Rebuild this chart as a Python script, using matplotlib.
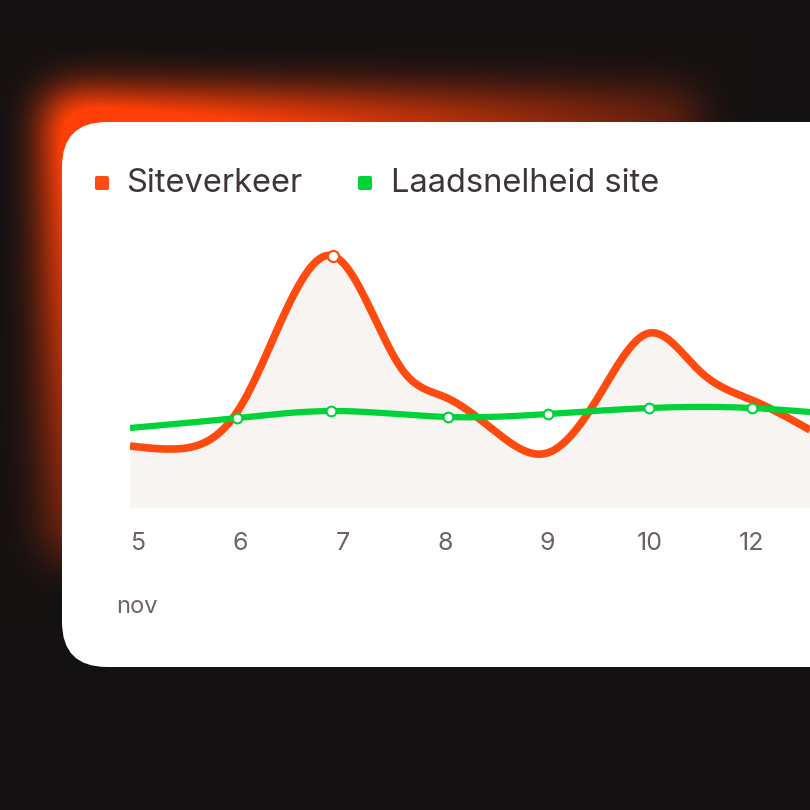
import numpy as np
import matplotlib
matplotlib.use("Agg")
import matplotlib.pyplot as plt
from matplotlib.patches import FancyBboxPatch

# ---- data ----
tick_labels = ["5", "6", "7", "8", "9", "10", "12"]
traffic_x = [-0.078, 0.35, 1.0, 1.91, 2.6, 3.0, 3.5, 4.0, 4.5, 5.0, 5.5, 6.0, 6.57]
traffic_y = [61, 58, 100, 251, 135, 110, 75, 54, 110, 174, 135, 107, 77]
speed_x = [-0.078, 0.97, 1.89, 3.03, 4.01, 5.0, 6.0, 6.57]
speed_y = [79, 89, 96, 90, 93, 99, 99, 95]
traffic_marker_x = [1.91]
traffic_marker_y = [251]
speed_marker_x = speed_x[1:-1]
speed_marker_y = speed_y[1:-1]
series_names = ["Siteverkeer", "Laadsnelheid site"]
month_label = "nov"

ORANGE = "#ff4a10"
GREEN = "#00d33a"
BG = "#141112"
GREY = "#6e6264"
W = H = 810

def natural_spline(x, y, n=600):
    x = np.asarray(x, float); y = np.asarray(y, float)
    m = len(x); h = np.diff(x)
    A = np.zeros((m, m)); r = np.zeros(m)
    A[0, 0] = A[-1, -1] = 1
    for i in range(1, m - 1):
        A[i, i - 1] = h[i - 1]; A[i, i] = 2 * (h[i - 1] + h[i]); A[i, i + 1] = h[i]
        r[i] = 6 * ((y[i + 1] - y[i]) / h[i] - (y[i] - y[i - 1]) / h[i - 1])
    M = np.linalg.solve(A, r)
    xs = np.linspace(x[0], x[-1], n)
    idx = np.clip(np.searchsorted(x, xs) - 1, 0, m - 2)
    x0, x1 = x[idx], x[idx + 1]; hh = x1 - x0
    ys = (M[idx] * (x1 - xs) ** 3 / (6 * hh) + M[idx + 1] * (xs - x0) ** 3 / (6 * hh)
          + (y[idx] / hh - M[idx] * hh / 6) * (x1 - xs) + (y[idx + 1] / hh - M[idx + 1] * hh / 6) * (xs - x0))
    return xs, ys

fig = plt.figure(figsize=(8.1, 8.1), dpi=100)
fig.patch.set_facecolor(BG)

bg = fig.add_axes([0, 0, 1, 1]); bg.set_xlim(0, W); bg.set_ylim(H, 0); bg.axis("off")
yy, xx = np.mgrid[0:H, 0:W]
mask = ((xx > 48) & (xx < 700) & (yy > 95) & (yy < 560)).astype(float)
def blur(a, s):
    k = np.exp(-0.5 * (np.arange(-3 * s, 3 * s + 1) / s) ** 2); k /= k.sum()
    a = np.apply_along_axis(lambda v: np.convolve(v, k, "same"), 0, a)
    return np.apply_along_axis(lambda v: np.convolve(v, k, "same"), 1, a)
g = blur(mask, 22)
fade = np.clip(1.0 - ((xx - 60) / 850.0 + (yy - 100) / 650.0), 0, 1)
g = np.clip(g * fade * 1.5, 0, 1)
bgc = np.array([0x14, 0x11, 0x12]) / 255; oc = np.array([1.0, 0.25, 0.03])
img = bgc[None, None, :] * (1 - g[..., None]) + oc[None, None, :] * g[..., None]
bg.imshow(img, extent=(0, W, H, 0), zorder=0)

bg.add_patch(FancyBboxPatch((62, 122), 900, 545, boxstyle="round,pad=0,rounding_size=45",
                            fc="white", ec="none", zorder=1))
bg.add_patch(FancyBboxPatch((95, 176), 14, 14, boxstyle="round,pad=0,rounding_size=2", fc=ORANGE, ec="none", zorder=2))
bg.add_patch(FancyBboxPatch((358, 176), 14, 14, boxstyle="round,pad=0,rounding_size=2", fc=GREEN, ec="none", zorder=2))
bg.text(126, 183, series_names[0], fontsize=23.5, color="#3f3537", va="center", family="Inter", zorder=2)
bg.text(391, 183, series_names[1], fontsize=23.5, color="#3f3537", va="center", family="Inter", zorder=2)
bg.text(116, 607, month_label, fontsize=17, color=GREY, va="center", family="Inter", zorder=2)

x0px, x1px, ybot, ytop = 130, 810, 507, 230
ax = fig.add_axes([x0px / W, 1 - ybot / H, (x1px - x0px) / W, (ybot - ytop) / H])
ax.patch.set_alpha(0)
ppu = 102.3
ax.set_xlim(-(138 - x0px) / ppu, (x1px - 138) / ppu)
ax.set_ylim(0, ybot - ytop)
ax.axis("off")
tx, ty = natural_spline(traffic_x, traffic_y)
sx, sy = natural_spline(speed_x, speed_y)
ax.fill_between(tx, 0, ty, color="#f8f4f1", lw=0, zorder=1)
ax.plot(tx, ty, color=ORANGE, lw=5.5, solid_capstyle="butt", zorder=3)
ax.plot(sx, sy, color=GREEN, lw=4.5, solid_capstyle="butt", zorder=4)
ax.plot(traffic_marker_x, traffic_marker_y, "o", ms=8, mfc="white", mec=ORANGE, mew=1.5, zorder=5)
ax.plot(speed_marker_x, speed_marker_y, "o", ms=7, mfc="white", mec=GREEN, mew=1.5, zorder=5)
for i, lab in enumerate(tick_labels):
    ax.text(i, -37, lab, ha="center", va="center", fontsize=18, color=GREY, family="Inter", clip_on=False)

fig.savefig("out.png", dpi=100, facecolor=BG)
